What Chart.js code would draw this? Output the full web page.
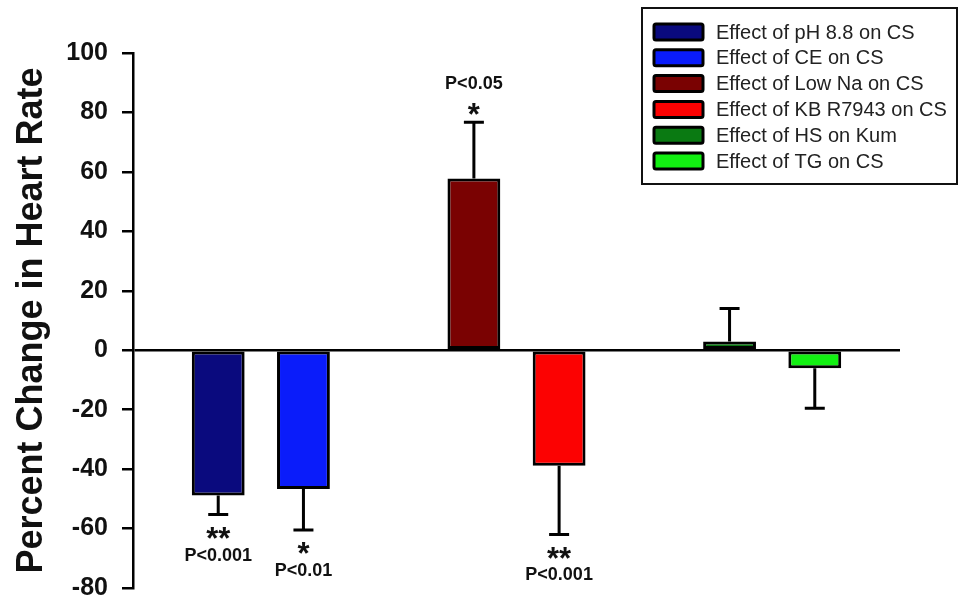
<!DOCTYPE html>
<html>
<head>
<meta charset="utf-8">
<script src="https://cdn.jsdelivr.net/npm/chart.js@4"></script>
<style>
  html, body { margin: 0; padding: 0; background: #fff; }
  #wrap { width: 960px; height: 601px; position: relative; }
</style>
</head>
<body>
<div id="wrap"><canvas id="heartChart"></canvas></div>
<script>
// values
const seriesNames = [
    "Effect of pH 8.8 on CS",
    "Effect of CE on CS",
    "Effect of Low Na on CS",
    "Effect of KB R7943 on CS",
    "Effect of HS on Kum",
    "Effect of TG on CS"
];
const barSlots = [1, 2, 4, 5, 7, 8];
const meanChange = [-48.9, -46.7, 57.8, -38.9, 2.9, -6.1];
const errorSize = [6.4, 13.8, 18.9, 23.1, 11.1, 13.4];
const stars = ["**", "*", "*", "**", "", ""];
const pLabels = ["P<0.001", "P<0.01", "P<0.05", "P<0.001", "", ""];
const barColors = ["#0a0a7e", "#0a1cfa", "#7a0202", "#fc0202", "#0a7a12", "#12f012"];
const yMin = -80, yMax = 100, yStep = 20;

const FONT = '"Liberation Sans", Arial, sans-serif';

const datasets = seriesNames.map(function (name, i) {
    return {
        label: name,
        data: [{ x: barSlots[i], y: meanChange[i] }],
        backgroundColor: barColors[i],
        borderColor: "#000",
        borderWidth: 3,
        borderSkipped: false,
        grouped: false,
        barPercentage: 0.62,
        categoryPercentage: 1
    };
});

// error bars + significance marks
const errorBars = {
    id: "errorBars",
    afterDatasetsDraw(chart) {
        const ctx = chart.ctx;
        const y = chart.scales.y;
        ctx.save();
        chart.data.datasets.forEach(function (ds, i) {
            const bar = chart.getDatasetMeta(i).data[0];
            const v = meanChange[i];
            const dir = v >= 0 ? 1 : -1;
            const endY = y.getPixelForValue(v + dir * errorSize[i]);
            ctx.strokeStyle = "#000";
            ctx.lineWidth = 3;
            ctx.beginPath();
            ctx.moveTo(bar.x, bar.y);
            ctx.lineTo(bar.x, endY);
            ctx.moveTo(bar.x - 10, endY);
            ctx.lineTo(bar.x + 10, endY);
            ctx.stroke();

            if (stars[i]) {
                ctx.fillStyle = "#111";
                ctx.textAlign = "center";
                ctx.font = "bold 31px " + FONT;
                ctx.textBaseline = "alphabetic";
                ctx.fillText(stars[i], bar.x, dir < 0 ? endY + 34 : endY + 3);
                ctx.font = "bold 18px " + FONT;
                ctx.textBaseline = "middle";
                ctx.fillText(pLabels[i], bar.x, dir < 0 ? endY + 41 : endY - 38);
            }
        });
        ctx.restore();
    }
};

// boxed legend in the top right corner
const boxLegend = {
    id: "boxLegend",
    afterDraw(chart) {
        const ctx = chart.ctx;
        const left = 642, top = 8, w = 315, h = 176;
        ctx.save();
        ctx.fillStyle = "#fff";
        ctx.fillRect(left, top, w, h);
        ctx.strokeStyle = "#111";
        ctx.lineWidth = 2;
        ctx.strokeRect(left, top, w, h);
        chart.data.datasets.forEach(function (ds, i) {
            const cy = 32 + i * 25.8;
            ctx.beginPath();
            ctx.roundRect(654, cy - 8, 49, 16, 2);
            ctx.fillStyle = ds.backgroundColor;
            ctx.fill();
            ctx.lineWidth = 3;
            ctx.strokeStyle = "#000";
            ctx.stroke();
            ctx.fillStyle = "#222";
            ctx.font = "20px " + FONT;
            ctx.textAlign = "left";
            ctx.textBaseline = "middle";
            ctx.fillText(ds.label, 716, cy + 1);
        });
        ctx.restore();
    }
};

new Chart(document.getElementById("heartChart"), {
    type: "bar",
    data: { datasets: datasets },
    options: {
        responsive: true,
        maintainAspectRatio: false,
        animation: false,
        layout: { padding: { top: 53, right: 60, bottom: 13, left: 0 } },
        plugins: {
            legend: { display: false },
            tooltip: { enabled: false }
        },
        scales: {
            x: {
                type: "linear",
                display: false,
                offset: false,
                min: 0,
                max: 9,
                ticks: { stepSize: 1 },
                afterFit: function (scale) { scale.height = 0; }
            },
            y: {
                min: yMin,
                max: yMax,
                afterFit: function (scale) {
                    scale.width = 133;
                    scale.paddingTop = 0;
                    scale.paddingBottom = 0;
                },
                ticks: {
                    stepSize: yStep,
                    color: "#111",
                    padding: 14,
                    font: { family: FONT, size: 25, weight: "bold" }
                },
                grid: {
                    color: function (c) { return c.tick && c.tick.value === 0 ? "#000" : "rgba(0,0,0,0)"; },
                    lineWidth: 2.5,
                    tickColor: "#000",
                    tickLength: 11,
                    tickWidth: 2.5
                },
                border: { color: "#000", width: 2.5 },
                title: {
                    display: true,
                    text: "Percent Change in Heart Rate",
                    color: "#111",
                    padding: { top: 14, bottom: 0 },
                    font: { family: FONT, size: 36, weight: "bold", lineHeight: 1 }
                }
            }
        }
    },
    plugins: [errorBars, boxLegend]
});
</script>
</body>
</html>
